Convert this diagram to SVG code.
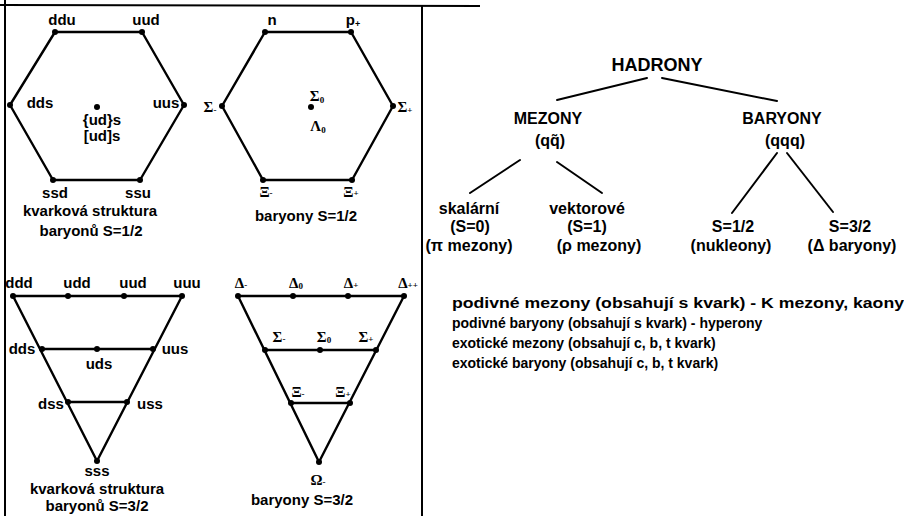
<svg xmlns="http://www.w3.org/2000/svg" width="904" height="516" viewBox="0 0 904 516">
<style>
.ln{stroke:#000;stroke-width:2.4;fill:none;stroke-linejoin:round;stroke-linecap:round}
.fr{stroke:#000;stroke-width:2;fill:none}
.cn{stroke:#000;stroke-width:2;fill:none;stroke-linecap:round}
.dot{fill:#000}
text{font-family:"Liberation Sans",Arial,sans-serif;font-weight:bold;fill:#000}
.t{font-size:15px;text-anchor:middle}
.g{font-family:"Liberation Serif","Times New Roman",serif;font-size:15px;text-anchor:middle}
.sub{font-size:9px}
.tr{font-size:16px;text-anchor:middle}
.hd{font-size:18px;text-anchor:middle}
.ls{font-size:14px}
</style>
<rect width="904" height="516" fill="#fff"/>
<g id="frame">
<line class="fr" x1="5" y1="0" x2="5" y2="516"/>
<line class="fr" x1="0" y1="5" x2="480" y2="6"/>
<line class="fr" x1="422" y1="5" x2="422" y2="516"/>
</g>
<g id="hex-quarks">
<path class="ln" d="M55,32 L142,32 L184,105 L140,180 L53,180 L10,105 Z"/>
<g class="dot"><circle cx="55" cy="32" r="3"/><circle cx="142" cy="32" r="3"/><circle cx="184" cy="105" r="3"/><circle cx="140" cy="180" r="3"/><circle cx="53" cy="180" r="3"/><circle cx="10" cy="105" r="3"/><circle cx="97" cy="107" r="3"/></g>
<text class="t" x="62" y="25">ddu</text>
<text class="t" x="146" y="25">uud</text>
<text class="t" x="40" y="108">dds</text>
<text class="t" x="166" y="108">uus</text>
<text class="t" x="102" y="125">{ud}s</text>
<text class="t" x="102" y="141">[ud]s</text>
<text class="t" x="55" y="198">ssd</text>
<text class="t" x="138" y="198">ssu</text>
<text class="t" x="90" y="216">kvarková struktura</text>
<text class="t" x="91" y="236">baryonů S=1/2</text>
</g>
<g id="hex-baryons">
<path class="ln" d="M265,32 L351,32 L393,106 L352,180 L263,180 L222,106 Z"/>
<g class="dot"><circle cx="265" cy="32" r="3"/><circle cx="351" cy="32" r="3"/><circle cx="393" cy="106" r="3"/><circle cx="352" cy="180" r="3"/><circle cx="263" cy="180" r="3"/><circle cx="222" cy="106" r="3"/><circle cx="311" cy="107" r="3"/></g>
<text class="t" x="272" y="25">n</text>
<text class="t" x="353" y="25">p<tspan class="sub" dy="2">+</tspan></text>
<text class="g" x="210" y="112">Σ<tspan class="sub" dy="1">-</tspan></text>
<text class="g" x="405" y="112">Σ<tspan class="sub" dy="1">+</tspan></text>
<text class="g" x="317" y="101">Σ<tspan class="sub" dy="2">0</tspan></text>
<text class="g" x="318" y="131">Λ<tspan class="sub" dy="2">0</tspan></text>
<text class="g" x="266" y="197">Ξ<tspan class="sub" dy="-1">-</tspan></text>
<text class="g" x="351" y="197">Ξ<tspan class="sub" dy="-1">+</tspan></text>
<text class="t" x="306" y="221">baryony S=1/2</text>
</g>
<g id="tri-quarks">
<path class="ln" d="M13,296 L182,296 L97,461 Z"/>
<line class="ln" x1="42" y1="349" x2="153" y2="349"/>
<line class="ln" x1="68" y1="402" x2="127" y2="402"/>
<g class="dot"><circle cx="13" cy="296" r="3"/><circle cx="68" cy="296" r="3"/><circle cx="124" cy="296" r="3"/><circle cx="182" cy="296" r="3"/><circle cx="42" cy="349" r="3"/><circle cx="97" cy="349" r="3"/><circle cx="153" cy="349" r="3"/><circle cx="68" cy="402" r="3"/><circle cx="127" cy="402" r="3"/><circle cx="97" cy="461" r="3"/></g>
<text class="t" x="19" y="288">ddd</text>
<text class="t" x="77" y="288">udd</text>
<text class="t" x="133" y="288">uud</text>
<text class="t" x="187" y="288">uuu</text>
<text class="t" x="22" y="354">dds</text>
<text class="t" x="99" y="369">uds</text>
<text class="t" x="175" y="354">uus</text>
<text class="t" x="51" y="409">dss</text>
<text class="t" x="150" y="409">uss</text>
<text class="t" x="97" y="476">sss</text>
<text class="t" x="97" y="494">kvarková struktura</text>
<text class="t" x="97" y="511">baryonů S=3/2</text>
</g>
<g id="tri-baryons">
<path class="ln" d="M238,296 L404,296 L319,462 Z"/>
<line class="ln" x1="265" y1="350" x2="376" y2="350"/>
<line class="ln" x1="291" y1="403" x2="350" y2="403"/>
<g class="dot"><circle cx="238" cy="296" r="3"/><circle cx="293" cy="296" r="3"/><circle cx="348" cy="296" r="3"/><circle cx="404" cy="296" r="3"/><circle cx="265" cy="350" r="3"/><circle cx="320" cy="350" r="3"/><circle cx="376" cy="350" r="3"/><circle cx="291" cy="403" r="3"/><circle cx="350" cy="403" r="3"/><circle cx="319" cy="462" r="3"/></g>
<text class="g" x="241" y="288">Δ<tspan class="sub">-</tspan></text>
<text class="g" x="296" y="288">Δ<tspan class="sub" dy="1">0</tspan></text>
<text class="g" x="351" y="288">Δ<tspan class="sub">+</tspan></text>
<text class="g" x="408" y="288">Δ<tspan class="sub">++</tspan></text>
<text class="g" x="279" y="342">Σ<tspan class="sub">-</tspan></text>
<text class="g" x="324" y="342">Σ<tspan class="sub" dy="1">0</tspan></text>
<text class="g" x="366" y="342">Σ<tspan class="sub">+</tspan></text>
<text class="g" x="298" y="397">Ξ<tspan class="sub">-</tspan></text>
<text class="g" x="343" y="397">Ξ<tspan class="sub">+</tspan></text>
<text class="g" x="318" y="485">Ω<tspan class="sub">-</tspan></text>
<text class="t" x="302" y="505">baryony S=3/2</text>
</g>
<g id="connectors">
<line class="cn" x1="647" y1="78" x2="557" y2="100"/>
<line class="cn" x1="662" y1="78" x2="777" y2="101"/>
<line class="cn" x1="520" y1="160" x2="470" y2="193"/>
<line class="cn" x1="557" y1="162" x2="602" y2="193"/>
<line class="cn" x1="777" y1="153" x2="732" y2="213"/>
<line class="cn" x1="787" y1="153" x2="833" y2="212"/>
</g>
<g id="hadrony"><text class="hd" x="657" y="71">HADRONY</text></g>
<g id="mezony"><text class="tr" x="548" y="124">MEZONY</text><text class="tr" x="550" y="146">(qq̃)</text></g>
<g id="baryony"><text class="tr" x="782" y="124">BARYONY</text><text class="tr" x="785" y="146">(qqq)</text></g>
<g id="skalarni"><text class="tr" x="469" y="214">skalární</text><text class="tr" x="470" y="232">(S=0)</text><text class="tr" x="469" y="251">(π mezony)</text></g>
<g id="vektorove"><text class="tr" x="587" y="214">vektorové</text><text class="tr" x="587" y="232">(S=1)</text><text class="tr" x="599" y="251">(ρ mezony)</text></g>
<g id="s12"><text class="tr" x="733" y="232">S=1/2</text><text class="tr" x="731" y="251">(nukleony)</text></g>
<g id="s32"><text class="tr" x="850" y="232">S=3/2</text><text class="tr" x="852" y="251">(Δ baryony)</text></g>
<g id="notes">
<text class="ls" x="452" y="308" font-size="15" textLength="452" lengthAdjust="spacingAndGlyphs">podivné mezony (obsahují s kvark) - K mezony, kaony</text>
<text class="ls" x="452" y="328">podivné baryony (obsahují s kvark) - hyperony</text>
<text class="ls" x="452" y="348">exotické mezony (obsahují c, b, t kvark)</text>
<text class="ls" x="452" y="368">exotické baryony (obsahují c, b, t kvark)</text>
</g>
</svg>
